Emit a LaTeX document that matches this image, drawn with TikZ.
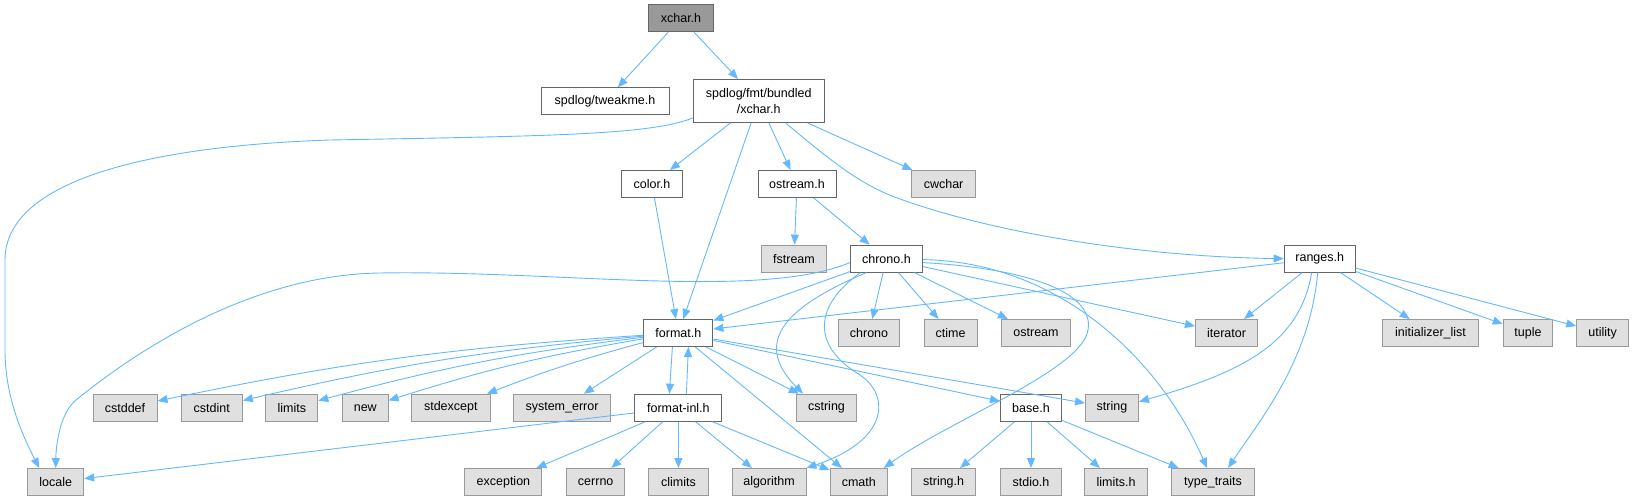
\documentclass[tikz,border=0pt]{standalone}
\usepackage{fontspec}
\setmainfont{Liberation Sans}
\usetikzlibrary{arrows.meta}
\definecolor{edgec}{HTML}{63B8FF}
\definecolor{rootfill}{HTML}{999999}
\definecolor{bord}{HTML}{666666}
\definecolor{extfill}{HTML}{E0E0E0}
\definecolor{extbord}{HTML}{999999}
\begin{document}
\begin{tikzpicture}[x=1pt,y=-1pt,
  nodebase/.style={rectangle, inner sep=0pt, minimum height=27pt, line width=1pt, font=\fontsize{12.5}{16}\selectfont, align=center},
  rootnode/.style={nodebase, draw=bord, fill=rootfill},
  docnode/.style={nodebase, draw=bord, fill=white},
  extnode/.style={nodebase, draw=extbord, fill=extfill},
  conn/.style={draw=edgec, line width=0.9pt, -{Triangle[length=10pt,width=8pt]}},
]
\useasboundingbox (0,0) rectangle (1634,501);
% row 0
\node[rootnode, minimum width=65pt] (xchar) at (681,18.3) {xchar.h};
% row 1
\node[docnode, minimum width=128pt] (tweakme) at (605,101.3) {spdlog/tweakme.h};
\node[docnode, minimum width=131pt, minimum height=43pt] (bundled) at (758.7,101) {spdlog/fmt/bundled\\/xchar.h};
% row 2
\node[docnode, minimum width=61pt] (color) at (652,184) {color.h};
\node[docnode, minimum width=78pt] (ostreamh) at (797,184) {ostream.h};
\node[extnode, minimum width=64pt] (cwchar) at (943.6,184) {cwchar};
% row 3
\node[extnode, minimum width=65pt] (fstream) at (794,258.6) {fstream};
\node[docnode, minimum width=72pt] (chronoh) at (886.4,258.6) {chrono.h};
\node[docnode, minimum width=71pt] (ranges) at (1319.7,258.6) {ranges.h};
% row 4
\node[docnode, minimum width=69pt] (format) at (678.4,333) {format.h};
\node[extnode, minimum width=61pt] (chrono) at (869,333) {chrono};
\node[extnode, minimum width=53pt] (ctime) at (950.6,333) {ctime};
\node[extnode, minimum width=69pt] (ostreamstd) at (1036,333) {ostream};
\node[extnode, minimum width=62pt] (iterator) at (1226.5,333) {iterator};
\node[extnode, minimum width=96pt] (initlist) at (1430.5,333) {initializer\_list};
\node[extnode, minimum width=49.5pt] (tuple) at (1528,333) {tuple};
\node[extnode, minimum width=52pt] (utility) at (1602.7,333) {utility};
% row 5
\node[extnode, minimum width=64pt] (cstddef) at (125,407.7) {cstddef};
\node[extnode, minimum width=61pt] (cstdint) at (211.8,407.7) {cstdint};
\node[extnode, minimum width=52pt] (limits) at (291.8,407.7) {limits};
\node[extnode, minimum width=45.5pt] (new) at (365.3,407.7) {new};
\node[extnode, minimum width=78.5pt] (stdexcept) at (450.8,407.7) {stdexcept};
\node[extnode, minimum width=97pt] (syserr) at (562,407.7) {system\_error};
\node[docnode, minimum width=87pt] (formatinl) at (678.4,407.7) {format-inl.h};
\node[extnode, minimum width=60pt] (cstring) at (826.5,407.7) {cstring};
\node[docnode, minimum width=61pt] (baseh) at (1031,407.7) {base.h};
\node[extnode, minimum width=53pt] (string) at (1112,407.7) {string};
% row 6
\node[extnode, minimum width=56pt] (locale) at (55.7,482) {locale};
\node[extnode, minimum width=77pt] (exception) at (503.4,482) {exception};
\node[extnode, minimum width=57.5pt] (cerrno) at (595.7,482) {cerrno};
\node[extnode, minimum width=60pt] (climits) at (678.4,482) {climits};
\node[extnode, minimum width=74pt] (algorithm) at (769,482) {algorithm};
\node[extnode, minimum width=57pt] (cmath) at (858.8,482) {cmath};
\node[extnode, minimum width=64pt] (stringh) at (943.6,482) {string.h};
\node[extnode, minimum width=61pt] (stdioh) at (1031,482) {stdio.h};
\node[extnode, minimum width=63pt] (limitsh) at (1116,482) {limits.h};
\node[extnode, minimum width=82.5pt] (typetraits) at (1213,482) {type\_traits};

% edges
\draw[conn] (xchar) -- (tweakme);
\draw[conn] (xchar) -- (bundled);
\draw[conn] ([yshift=5pt]bundled.south west) .. controls (650,135) and (550,136) .. (330,140)
  .. controls (150,146) and (5,180) .. (5,260) -- (5,350)
  .. controls (5,400) and (25,440) .. ([xshift=12pt]locale.north west);
\draw[conn] (bundled) -- (color);
\draw[conn] (bundled) -- (format);
\draw[conn] (bundled) -- (ostreamh);
\draw[conn] (bundled) -- (cwchar);
\draw[conn] ([xshift=27pt]bundled.south) .. controls (830,160) and (860,185) .. (900,199)
  .. controls (1000,235) and (1150,257) .. (ranges.west);
\draw[conn] (color) -- (format);
\draw[conn] (ostreamh) -- (fstream);
\draw[conn] (ostreamh) -- (chronoh);
% chrono.h
\draw[conn] ([yshift=-4pt]chronoh.west) .. controls (760,300) and (560,270) .. (379,273)
  .. controls (260,275) and (150,340) .. (76,400)
  .. controls (60,413) and (56,445) .. (locale.north);
\draw[conn] (chronoh) -- (format);
\draw[conn] (chronoh) -- (chrono);
\draw[conn] (chronoh) -- (ctime);
\draw[conn] (chronoh) -- (ostreamstd);
\draw[conn] (chronoh) -- (iterator);
\draw[conn] ([xshift=-20pt]chronoh.south) .. controls (790,305) and (750,340) .. ([xshift=7pt]cstring.north west);
\draw[conn] ([xshift=-26pt]chronoh.south) .. controls (815,305) and (810,345) .. (860,375)
  .. controls (890,395) and (890,440) .. (algorithm.north east);
\draw[conn] ([yshift=-4pt]chronoh.east) .. controls (1020,268) and (1095,290) .. (1088,330)
  .. controls (1082,370) and (950,420) .. ([xshift=-4pt]cmath.north east);
\draw[conn] ([yshift=-1pt]chronoh.east) .. controls (1060,262) and (1160,360) .. ([xshift=-6pt]typetraits.north);
% ranges.h
\draw[conn] (ranges) -- (format);
\draw[conn] (ranges) -- (iterator);
\draw[conn] (ranges) -- (initlist);
\draw[conn] (ranges) -- (tuple);
\draw[conn] (ranges) -- (utility);
\draw[conn] ([xshift=-8pt]ranges.south) .. controls (1300,340) and (1250,370) .. ([yshift=6pt]string.east);
\draw[conn] ([xshift=-2pt]ranges.south) .. controls (1310,360) and (1260,420) .. ([xshift=15pt]typetraits.north);
% format.h
\draw[conn] (format) to[bend right=4] (cstddef);
\draw[conn] (format) to[bend right=4] (cstdint);
\draw[conn] (format) to[bend right=4] (limits);
\draw[conn] (format) to[bend right=4] (new);
\draw[conn] (format) to[bend right=3] (stdexcept);
\draw[conn] (format) -- (syserr);
\draw[conn] ([xshift=-6pt]format.south) -- ([xshift=-9pt]formatinl.north);
\draw[conn] ([xshift=8pt]formatinl.north) -- ([xshift=10pt]format.south);
\draw[conn] (format) -- (cstring);
\draw[conn] (format) -- (cmath);
\draw[conn] (format) -- (baseh);
\draw[conn] (format) -- (string);
% format-inl.h
\draw[conn] (formatinl) -- (locale);
\draw[conn] (formatinl) -- (exception);
\draw[conn] (formatinl) -- (cerrno);
\draw[conn] (formatinl) -- (climits);
\draw[conn] (formatinl) -- (algorithm);
\draw[conn] (formatinl) -- (cmath);
% base.h
\draw[conn] (baseh) -- (stringh);
\draw[conn] (baseh) -- (stdioh);
\draw[conn] (baseh) -- (limitsh);
\draw[conn] (baseh) -- (typetraits);
\end{tikzpicture}
\end{document}
